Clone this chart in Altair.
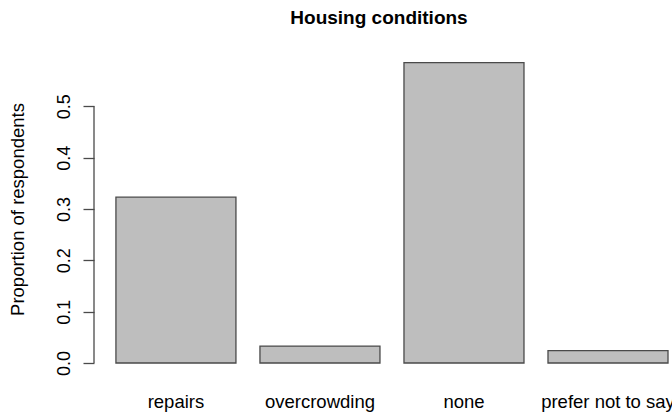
import altair as alt
import pandas as pd

# Housing conditions survey: share of respondents per answer
categories = ["repairs", "overcrowding", "none", "prefer not to say"]
proportions = [0.323, 0.033, 0.585, 0.024]
tick_values = [0.0, 0.1, 0.2, 0.3, 0.4, 0.5]

bars_df = pd.DataFrame({"answer": categories, "proportion": proportions})
axis_df = pd.DataFrame({"lo": [tick_values[0]], "hi": [tick_values[-1]]})

FONT = "Liberation Sans"
INK = "#4a4a4a"

x_enc = alt.X(
    "answer:N",
    sort=categories,
    scale=alt.Scale(paddingInner=0.1667, paddingOuter=0.09, align=0.846),
    axis=alt.Axis(
        title=None,
        domain=False,
        ticks=False,
        grid=False,
        labelAngle=0,
        labelPadding=29,
        labelFontSize=18.5,
        labelFont=FONT,
        labelColor="#000000",
        labelOverlap=False,
        labelBound=False,
        labelFlush=False,
    ),
)

y_scale = alt.Scale(domain=[0, 0.6], nice=False, zero=True)

bars = alt.Chart(bars_df).mark_bar(
    color="#bebebe", stroke=INK, strokeWidth=1.3
).encode(
    x=x_enc,
    y=alt.Y(
        "proportion:Q",
        scale=y_scale,
        axis=alt.Axis(
            title="Proportion of respondents",
            titleFont=FONT,
            titleFontSize=18.5,
            titleFontWeight="normal",
            titleColor="#000000",
            titleAngle=-90,
            titleAlign="center",
            titleBaseline="middle",
            titleX=-77,
            titleY=154,
            values=tick_values,
            format=".1f",
            domain=False,
            grid=False,
            tickSize=11,
            tickWidth=1.3,
            tickColor=INK,
            labelAngle=-90,
            labelAlign="center",
            labelBaseline="bottom",
            labelPadding=10,
            labelFont=FONT,
            labelFontSize=18,
            labelColor="#000000",
            labelFlush=False,
            labelOverlap=False,
        ),
    ),
)

# y-axis line spanning only the labelled range
axis_line = alt.Chart(axis_df).mark_rule(color=INK, strokeWidth=1.3).encode(
    x=alt.value(0),
    y=alt.Y("lo:Q", scale=y_scale),
    y2="hi:Q",
)

chart = (
    alt.layer(bars, axis_line)
    .properties(
        width=578,
        height=308,
        autosize=alt.AutoSizeParams(type="none"),
        padding={"left": 94, "top": 55, "right": 0, "bottom": 50},
        view=alt.ViewBackground(strokeWidth=0, strokeOpacity=0),
        title=alt.TitleParams(
            "Housing conditions",
            font=FONT,
            fontSize=19,
            fontWeight="bold",
            color="#000000",
            anchor="middle",
            offset=27,
            dx=-4,
        ),
    )
    .configure_view(strokeWidth=0, strokeOpacity=0)
    .configure_axis(grid=False)
    .configure(background="#ffffff")
)

chart.save("out.html", embed_options={"renderer": "svg", "actions": False})
